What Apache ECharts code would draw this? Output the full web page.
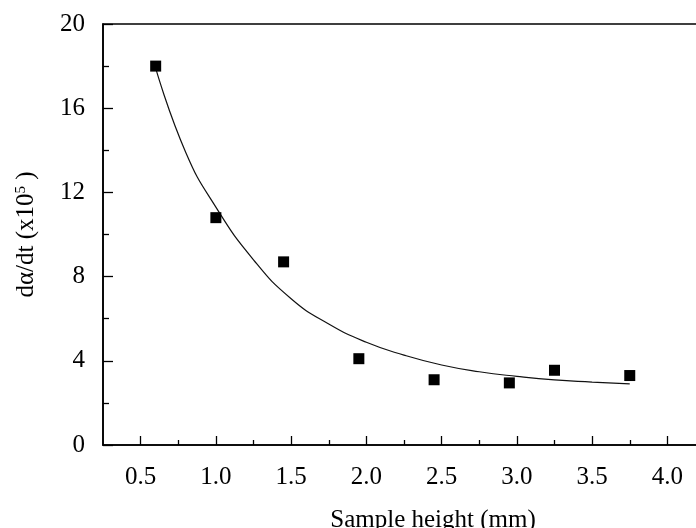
<!DOCTYPE html>
<html>
<head>
<meta charset="utf-8">
<script src="https://cdn.jsdelivr.net/npm/echarts@6/dist/echarts.min.js"></script>
<style>
html,body{margin:0;padding:0;background:#fff;}
#chart{width:696px;height:528px;}
</style>
</head>
<body>
<div id="chart"></div>
<script>
// Measured data points
var sampleHeights = [0.6, 1.0, 1.45, 1.95, 2.45, 2.95, 3.25, 3.75];
var rates = [18.0, 10.8, 8.7, 4.1, 3.1, 2.95, 3.55, 3.3];

// Fitted curve
var fitX = [0.6, 0.8, 1.0, 1.25, 1.5, 1.75, 2.0, 2.25, 2.5, 2.75, 3.0, 3.25, 3.5, 3.75];
var fitY = [17.9, 13.9, 11.3, 8.8, 6.95, 5.75, 4.88, 4.27, 3.8, 3.48, 3.26, 3.09, 2.99, 2.9];

// Tick values
var xMajorTicks = [0.5, 1.0, 1.5, 2.0, 2.5, 3.0, 3.5, 4.0];
var xMinorTicks = [0.75, 1.25, 1.75, 2.25, 2.75, 3.25, 3.75];

var FONT = '"Liberation Serif", "Times New Roman", serif';

var chart = echarts.init(document.getElementById('chart'), null, {renderer: 'canvas'});

var pts = sampleHeights.map(function (x, i) { return [x, rates[i]]; });
var fit = fitX.map(function (x, i) { return [x, fitY[i]]; });

chart.setOption({
  animation: false,
  backgroundColor: '#fff',
  grid: {
    left: 103, right: -9, top: 24, bottom: 83,
    outerBoundsMode: 'none', containLabel: false,
    show: true, borderColor: '#000', borderWidth: 1.6, backgroundColor: 'transparent'
  },
  xAxis: [{
    type: 'value', min: 0.25, max: 4.25,
    name: 'Sample height (mm)', nameLocation: 'middle', nameGap: 63,
    nameTextStyle: {fontFamily: FONT, fontSize: 25, color: '#000', padding: [0, 0, 0, 58]},
    axisLine: {show: true, lineStyle: {color: '#000', width: 1.6}},
    axisTick: {show: true, inside: true, length: 9, customValues: xMajorTicks, lineStyle: {color: '#000', width: 1.3}},
    axisLabel: {show: true, customValues: xMajorTicks, margin: 20, fontFamily: FONT, fontSize: 25, color: '#000',
      formatter: function (v) { return v.toFixed(1); }},
    splitLine: {show: false}
  }, {
    type: 'value', min: 0.25, max: 4.25, position: 'bottom',
    axisLine: {show: false},
    axisTick: {show: true, inside: true, length: 5, customValues: xMinorTicks, lineStyle: {color: '#000', width: 1.3}},
    axisLabel: {show: false},
    splitLine: {show: false}
  }],
  yAxis: {
    type: 'value', min: 0, max: 20, interval: 4,
    name: '{a|dα/dt (x10}{s|5}{a| )}', nameLocation: 'middle', nameGap: 64, nameRotate: 90,
    nameTextStyle: {
      rich: {
        a: {fontFamily: FONT, fontSize: 25, color: '#000'},
        s: {fontFamily: FONT, fontSize: 15, color: '#000', verticalAlign: 'top', padding: [0, 0, 10, 0]}
      }
    },
    axisLine: {show: true, lineStyle: {color: '#000', width: 1.6}},
    axisTick: {show: true, inside: true, length: 10, lineStyle: {color: '#000', width: 1.3}},
    minorTick: {show: true, splitNumber: 2, length: 6, lineStyle: {color: '#000', width: 1.3}},
    axisLabel: {margin: 18, fontFamily: FONT, fontSize: 25, color: '#000'},
    splitLine: {show: false}
  },
  series: [{
    type: 'line', data: fit, xAxisIndex: 0, smooth: 0.5, symbol: 'none',
    lineStyle: {color: '#111', width: 1.2}, silent: true, z: 2
  }, {
    type: 'scatter', data: pts, xAxisIndex: 0, symbol: 'rect', symbolSize: 11,
    itemStyle: {color: '#000', opacity: 1}, z: 3
  }]
});
</script>
</body>
</html>
